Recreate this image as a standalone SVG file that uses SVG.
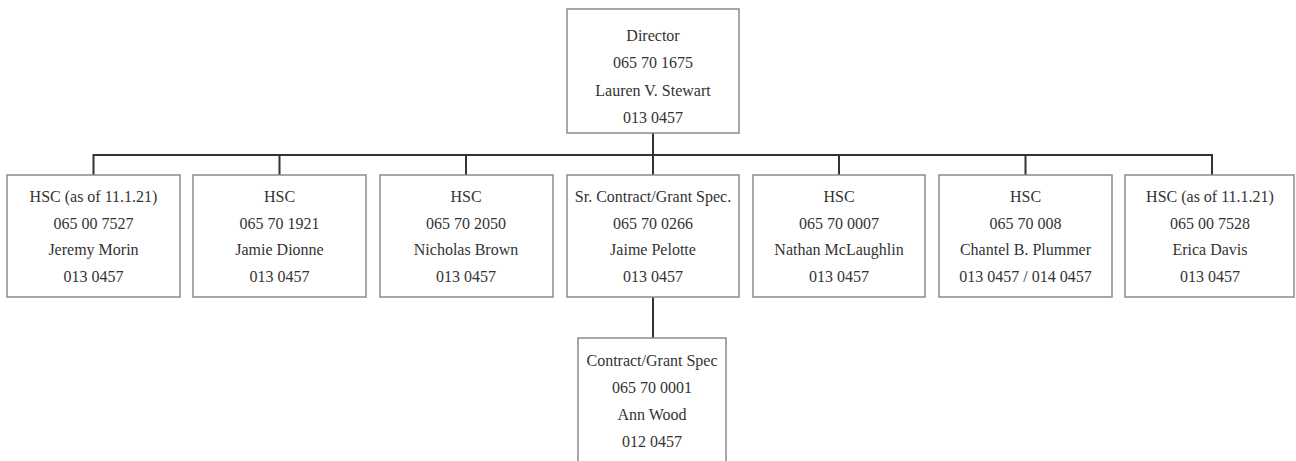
<svg xmlns="http://www.w3.org/2000/svg" width="1296" height="461" viewBox="0 0 1296 461">
<style>
.box{fill:#fff;stroke:#8a8a8a;stroke-width:1.5}
.t{font-family:"Liberation Serif","Times New Roman",serif;font-size:16px;fill:#333;text-anchor:middle}
.c{stroke:#333;stroke-width:2;fill:none}
</style>
<rect width="1296" height="461" fill="#fff"/>
<g id="connectors">
<path class="c" d="M653 133V155M93.5 155H1212M93.5 154V175M279.5 155V175M466 155V175M653 155V175M839 155V175M1025.5 155V175M1212 154V175M653 297V338"/>
</g>
<g id="director">
<rect class="box" x="567" y="9" width="172" height="124"/>
<text class="t" x="653" y="41">Director</text>
<text class="t" x="653" y="68">065 70 1675</text>
<text class="t" x="653" y="96">Lauren V. Stewart</text>
<text class="t" x="653" y="123">013 0457</text>
</g>
<g id="hsc1">
<rect class="box" x="7" y="175" width="173" height="122"/>
<text class="t" x="93.5" y="202">HSC (as of 11.1.21)</text>
<text class="t" x="93.5" y="229">065 00 7527</text>
<text class="t" x="93.5" y="255">Jeremy Morin</text>
<text class="t" x="93.5" y="282">013 0457</text>
</g>
<g id="hsc2">
<rect class="box" x="193" y="175" width="173" height="122"/>
<text class="t" x="279.5" y="202">HSC</text>
<text class="t" x="279.5" y="229">065 70 1921</text>
<text class="t" x="279.5" y="255">Jamie Dionne</text>
<text class="t" x="279.5" y="282">013 0457</text>
</g>
<g id="hsc3">
<rect class="box" x="380" y="175" width="173" height="122"/>
<text class="t" x="466" y="202">HSC</text>
<text class="t" x="466" y="229">065 70 2050</text>
<text class="t" x="466" y="255">Nicholas Brown</text>
<text class="t" x="466" y="282">013 0457</text>
</g>
<g id="srspec">
<rect class="box" x="567" y="175" width="172" height="122"/>
<text class="t" x="653" y="202">Sr. Contract/Grant Spec.</text>
<text class="t" x="653" y="229">065 70 0266</text>
<text class="t" x="653" y="255">Jaime Pelotte</text>
<text class="t" x="653" y="282">013 0457</text>
</g>
<g id="hsc5">
<rect class="box" x="753" y="175" width="172" height="122"/>
<text class="t" x="839" y="202">HSC</text>
<text class="t" x="839" y="229">065 70 0007</text>
<text class="t" x="839" y="255">Nathan McLaughlin</text>
<text class="t" x="839" y="282">013 0457</text>
</g>
<g id="hsc6">
<rect class="box" x="939" y="175" width="173" height="122"/>
<text class="t" x="1025.5" y="202">HSC</text>
<text class="t" x="1025.5" y="229">065 70 008</text>
<text class="t" x="1025.5" y="255">Chantel B. Plummer</text>
<text class="t" x="1025.5" y="282">013 0457 / 014 0457</text>
</g>
<g id="hsc7">
<rect class="box" x="1125" y="175" width="169" height="122"/>
<text class="t" x="1210" y="202">HSC (as of 11.1.21)</text>
<text class="t" x="1210" y="229">065 00 7528</text>
<text class="t" x="1210" y="255">Erica Davis</text>
<text class="t" x="1210" y="282">013 0457</text>
</g>
<g id="spec">
<rect class="box" x="578" y="338" width="148" height="130"/>
<text class="t" x="652" y="366">Contract/Grant Spec</text>
<text class="t" x="652" y="393">065 70 0001</text>
<text class="t" x="652" y="420">Ann Wood</text>
<text class="t" x="652" y="447">012 0457</text>
</g>
</svg>
